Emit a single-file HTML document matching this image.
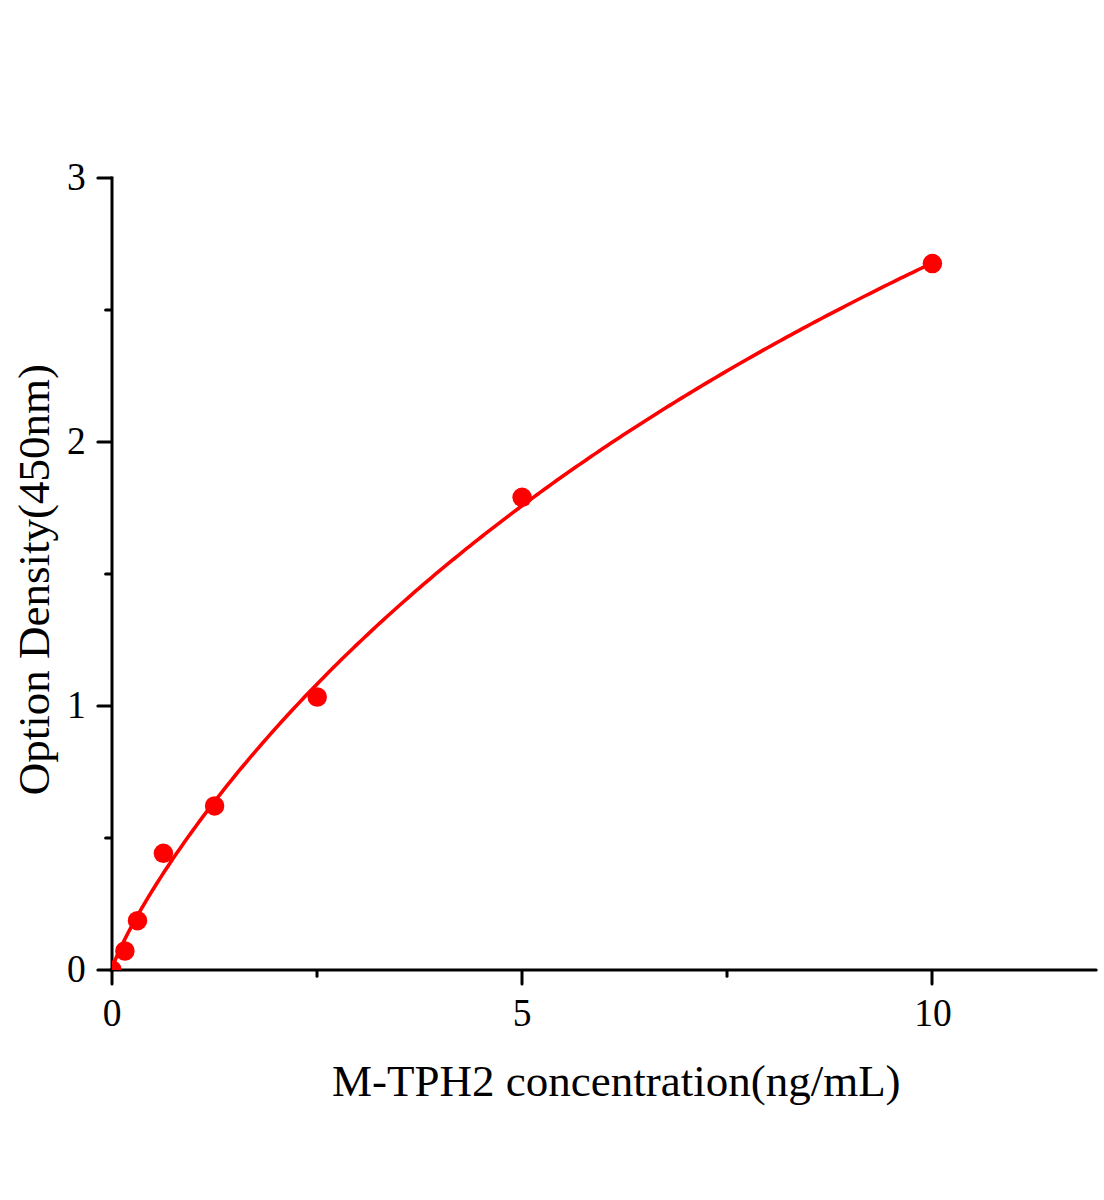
<!DOCTYPE html>
<html><head><meta charset="utf-8"><style>
html,body{margin:0;padding:0;background:#fff;width:1104px;height:1200px;overflow:hidden}
svg{display:block}
</style></head><body>
<svg width="1104" height="1200" viewBox="0 0 1104 1200">
<rect width="1104" height="1200" fill="#fff"/>
<defs><clipPath id="pa"><rect x="112" y="0" width="1000" height="970"/></clipPath></defs>
<g stroke="#000" stroke-width="3" stroke-linecap="round" fill="none">
<line x1="112" y1="176.5" x2="112" y2="971.5" stroke-linecap="butt"/>
<line x1="110.5" y1="970" x2="1096.2" y2="970"/>
<line x1="97.9" y1="970.0" x2="111.5" y2="970.0"/>
<line x1="97.9" y1="706.0" x2="111.5" y2="706.0"/>
<line x1="97.9" y1="442.0" x2="111.5" y2="442.0"/>
<line x1="97.9" y1="178.0" x2="111.5" y2="178.0"/>
<line x1="105.6" y1="838.0" x2="111.5" y2="838.0"/>
<line x1="105.6" y1="574.0" x2="111.5" y2="574.0"/>
<line x1="105.6" y1="310.0" x2="111.5" y2="310.0"/>
<line x1="112.0" y1="970.5" x2="112.0" y2="984.1"/>
<line x1="522.0" y1="970.5" x2="522.0" y2="984.1"/>
<line x1="932.0" y1="970.5" x2="932.0" y2="984.1"/>
<line x1="317.0" y1="970.5" x2="317.0" y2="976.3"/>
<line x1="727.0" y1="970.5" x2="727.0" y2="976.3"/>
</g>
<g clip-path="url(#pa)" fill="#ff0000">
<circle cx="112" cy="970" r="9.75"/>
<polyline points="112.00,969.17 112.69,966.73 113.39,964.72 114.08,962.86 114.78,961.09 115.47,959.38 116.17,957.72 116.86,956.10 117.56,954.51 118.25,952.95 118.95,951.42 119.64,949.91 120.34,948.42 121.03,946.95 121.73,945.50 122.42,944.06 123.12,942.64 123.81,941.24 124.51,939.84 125.20,938.46 125.90,937.09 126.59,935.73 127.29,934.39 127.98,933.05 128.68,931.72 129.37,930.40 130.07,929.10 130.76,927.79 131.46,926.50 132.15,925.22 132.85,923.94 133.54,922.67 134.24,921.41 134.93,920.16 135.63,918.91 136.32,917.67 137.02,916.43 137.71,915.20 138.41,913.98 139.10,912.76 139.80,911.55 140.49,910.35 141.19,909.15 141.88,907.95 142.58,906.76 143.27,905.58 143.97,904.40 144.66,903.22 145.36,902.06 146.05,900.89 146.75,899.73 147.44,898.58 148.14,897.42 148.83,896.28 149.53,895.14 150.22,894.00 150.92,892.86 151.61,891.73 152.31,890.61 153.00,889.49 156.91,883.24 160.83,877.11 164.74,871.08 168.66,865.15 172.57,859.32 176.49,853.57 180.40,847.91 184.32,842.32 188.23,836.81 192.15,831.37 196.06,826.00 199.97,820.69 203.89,815.44 207.80,810.26 211.72,805.13 215.63,800.06 219.55,795.05 223.46,790.08 227.38,785.17 231.29,780.31 235.21,775.50 239.12,770.73 243.04,766.01 246.95,761.33 250.86,756.70 254.78,752.10 258.69,747.55 262.61,743.04 266.52,738.57 270.44,734.14 274.35,729.74 278.27,725.38 282.18,721.06 286.10,716.77 290.01,712.52 293.92,708.30 297.84,704.11 301.75,699.96 305.67,695.84 309.58,691.75 313.50,687.69 317.41,683.66 321.33,679.66 325.24,675.69 329.16,671.75 333.07,667.83 336.98,663.95 340.90,660.09 344.81,656.26 348.73,652.45 352.64,648.68 356.56,644.92 360.47,641.20 364.39,637.49 368.30,633.82 372.22,630.16 376.13,626.53 380.05,622.93 383.96,619.34 387.87,615.78 391.79,612.24 395.70,608.73 399.62,605.24 403.53,601.76 407.45,598.31 411.36,594.89 415.28,591.48 419.19,588.09 423.11,584.72 427.02,581.38 430.93,578.05 434.85,574.74 438.76,571.45 442.68,568.18 446.59,564.93 450.51,561.70 454.42,558.49 458.34,555.30 462.25,552.12 466.17,548.96 470.08,545.82 473.99,542.70 477.91,539.59 481.82,536.50 485.74,533.43 489.65,530.38 493.57,527.34 497.48,524.32 501.40,521.31 505.31,518.32 509.23,515.35 513.14,512.39 517.06,509.44 520.97,506.52 524.88,503.60 528.80,500.71 532.71,497.83 536.63,494.96 540.54,492.11 544.46,489.27 548.37,486.44 552.29,483.63 556.20,480.84 560.12,478.06 564.03,475.29 567.94,472.54 571.86,469.80 575.77,467.07 579.69,464.36 583.60,461.66 587.52,458.97 591.43,456.29 595.35,453.63 599.26,450.98 603.18,448.35 607.09,445.72 611.01,443.11 614.92,440.52 618.83,437.93 622.75,435.35 626.66,432.79 630.58,430.24 634.49,427.70 638.41,425.17 642.32,422.66 646.24,420.16 650.15,417.66 654.07,415.18 657.98,412.71 661.89,410.25 665.81,407.80 669.72,405.37 673.64,402.94 677.55,400.52 681.47,398.12 685.38,395.73 689.30,393.34 693.21,390.97 697.13,388.61 701.04,386.25 704.95,383.91 708.87,381.58 712.78,379.26 716.70,376.94 720.61,374.64 724.53,372.35 728.44,370.06 732.36,367.79 736.27,365.53 740.19,363.27 744.10,361.03 748.02,358.79 751.93,356.57 755.84,354.35 759.76,352.14 763.67,349.94 767.59,347.75 771.50,345.57 775.42,343.40 779.33,341.24 783.25,339.08 787.16,336.94 791.08,334.80 794.99,332.67 798.90,330.55 802.82,328.44 806.73,326.33 810.65,324.24 814.56,322.15 818.48,320.08 822.39,318.01 826.31,315.94 830.22,313.89 834.14,311.84 838.05,309.81 841.96,307.78 845.88,305.75 849.79,303.74 853.71,301.73 857.62,299.73 861.54,297.74 865.45,295.76 869.37,293.78 873.28,291.81 877.20,289.85 881.11,287.90 885.03,285.95 888.94,284.01 892.85,282.08 896.77,280.15 900.68,278.24 904.60,276.33 908.51,274.42 912.43,272.53 916.34,270.64 920.26,268.75 924.17,266.88 928.09,265.01 932.00,263.15" fill="none" stroke="#ff0000" stroke-width="3.6" stroke-linejoin="round"/>
<circle cx="124.9" cy="951.0" r="9.75"/>
<circle cx="137.5" cy="920.7" r="9.75"/>
<circle cx="163.4" cy="853.3" r="9.75"/>
<circle cx="214.6" cy="805.9" r="9.75"/>
<circle cx="317.2" cy="697.0" r="9.75"/>
<circle cx="522.1" cy="497.3" r="9.75"/>
<circle cx="932.4" cy="263.6" r="9.75"/>
</g>
<g font-family='"Liberation Serif", serif' font-size="37.5" fill="#000">
<text transform="translate(76.3,981.5) scale(1,1.05)" text-anchor="middle">0</text>
<text transform="translate(76.3,717.5) scale(1,1.05)" text-anchor="middle">1</text>
<text transform="translate(76.3,453.5) scale(1,1.05)" text-anchor="middle">2</text>
<text transform="translate(76.3,189.5) scale(1,1.05)" text-anchor="middle">3</text>
<text transform="translate(112.0,1025.5) scale(1,1.05)" text-anchor="middle">0</text>
<text transform="translate(522.0,1025.5) scale(1,1.05)" text-anchor="middle">5</text>
<text transform="translate(933.0,1025.5) scale(1,1.05)" text-anchor="middle">10</text>
</g>
<g font-family='"Liberation Serif", serif' font-size="45" fill="#000">
<text x="332" y="1095.9" id="xt">M-TPH2 concentration(ng/mL)</text>
<text transform="translate(49.0,795.3) rotate(-90)" x="0" y="0" id="yt">Option Density(450nm)</text>
</g>
</svg>
</body></html>
